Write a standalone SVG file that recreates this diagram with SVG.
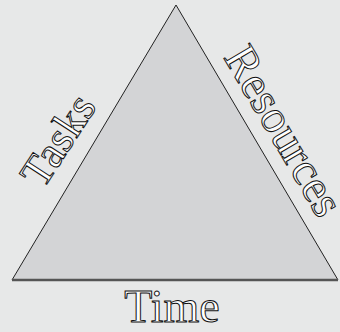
<svg xmlns="http://www.w3.org/2000/svg" width="340" height="332" viewBox="0 0 340 332">
<style>
.lbl{font-family:"Liberation Serif","Times New Roman",serif;fill:#fff;stroke:#111;stroke-width:1;}
</style>
<rect width="340" height="332" fill="#e7e8e8"/>
<g id="triangle">
<polygon points="176,5 12,280 338,280" fill="#d3d4d6" stroke="#222" stroke-width="1"/>
<line x1="12" y1="280" x2="338" y2="280" stroke="#555" stroke-width="2.5"/>
</g>
<g id="tasks"><text class="lbl" font-size="44" transform="translate(43,190) rotate(-57)">Tasks</text></g>
<g id="resources"><text class="lbl" font-size="46" transform="translate(223,57) rotate(59.5)">Resources</text></g>
<g id="time"><text class="lbl" font-size="46" x="172" y="322" text-anchor="middle">Time</text></g>
</svg>
